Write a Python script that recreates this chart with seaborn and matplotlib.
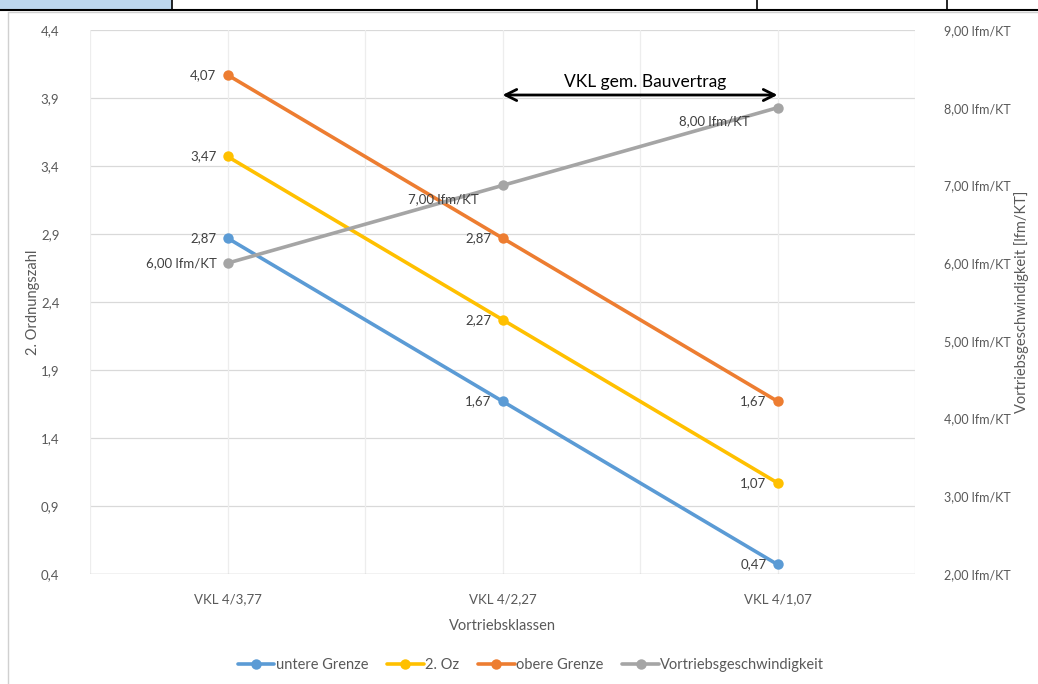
import matplotlib
matplotlib.use("Agg")
import matplotlib.pyplot as plt
from matplotlib.lines import Line2D
from matplotlib.patches import Rectangle
import seaborn as sns
import pandas as pd

# --- data -------------------------------------------------------------
categories = ["VKL 4/3,77", "VKL 4/2,27", "VKL 4/1,07"]
untere_grenze = [2.87, 1.67, 0.47]
zweite_oz = [3.47, 2.27, 1.07]
obere_grenze = [4.07, 2.87, 1.67]
vortrieb = [6.00, 7.00, 8.00]
series_names = ["untere Grenze", "2. Oz", "obere Grenze", "Vortriebsgeschwindigkeit"]
left_ticks = [0.4, 0.9, 1.4, 1.9, 2.4, 2.9, 3.4, 3.9, 4.4]
right_ticks = [2, 3, 4, 5, 6, 7, 8, 9]

colors = {"untere Grenze": "#5B9BD5", "2. Oz": "#FFC000",
          "obere Grenze": "#ED7D31", "Vortriebsgeschwindigkeit": "#A5A5A5"}
text_col = "#595959"

sns.set_theme(style="white")
plt.rcParams["font.family"] = ["Lato", "DejaVu Sans"]

def de(v, nd=2):
    return f"{v:.{nd}f}".replace(".", ",")

pos = {c: i for i, c in enumerate(categories)}
rows = []
for name, vals in zip(series_names[:3], [untere_grenze, zweite_oz, obere_grenze]):
    for c, v in zip(categories, vals):
        rows.append({"klasse": c, "x": pos[c], "wert": v, "reihe": name})
df = pd.DataFrame(rows)
df_v = pd.DataFrame({"klasse": categories, "x": [pos[c] for c in categories], "wert": vortrieb})

fig = plt.figure(figsize=(10.38, 6.84), dpi=100)
W, H = 1038, 684
ax = fig.add_axes([90 / W, 1 - 574 / H, (915 - 90) / W, (574 - 30) / H])
ax2 = ax.twinx()

# grid: horizontal at left ticks, vertical at category centres and borders
for y in left_ticks[1:]:
    ax.axhline(y, color="#D9D9D9", lw=0.9, zorder=0)
for xv in [-0.5, 0, 0.5, 1, 1.5, 2, 2.5]:
    ax.axvline(xv, color="#EDEDED", lw=0.9, zorder=0)
ax.axhline(left_ticks[0], color="#BFBFBF", lw=1.0, zorder=1)

sns.lineplot(data=df, x="x", y="wert", hue="reihe", palette=colors,
             hue_order=series_names[:3], marker="o", markersize=7.5,
             markeredgewidth=0, linewidth=2.6, sort=False, legend=False, ax=ax)
sns.lineplot(data=df_v, x="x", y="wert", color=colors["Vortriebsgeschwindigkeit"],
             marker="o", markersize=7.5, markeredgewidth=0, linewidth=2.6,
             sort=False, legend=False, ax=ax2)

ax.set_xlim(-0.5, 2.5)
ax.set_ylim(left_ticks[0], left_ticks[-1])
ax2.set_ylim(right_ticks[0], right_ticks[-1])
ax.set_xticks(range(len(categories)))
ax.set_xticklabels(categories)
ax.set_yticks(left_ticks)
ax.set_yticklabels([de(t, 1) for t in left_ticks])
ax2.set_yticks(right_ticks)
ax2.set_yticklabels([de(t) + " lfm/KT" for t in right_ticks])

for a in (ax, ax2):
    for s in a.spines.values():
        s.set_visible(False)
    a.tick_params(axis="both", length=0, labelsize=9.5, colors=text_col)
    a.grid(False)
ax.tick_params(axis="x", pad=14)
ax.tick_params(axis="y", pad=22)
ax2.tick_params(axis="y", pad=21, labelsize=9)

ax.set_xlabel("Vortriebsklassen", fontsize=10.5, color=text_col, labelpad=10)
ax.set_ylabel("2. Ordnungszahl", fontsize=10.5, color=text_col, labelpad=0.5)
ax2.set_ylabel("Vortriebsgeschwindigkeit [lfm/KT]", fontsize=10.5, color=text_col, labelpad=2)

# data labels
lab_kw = dict(fontsize=9.5, color="#404040", ha="right", va="center", textcoords="offset points")
for vals in [untere_grenze, zweite_oz, obere_grenze]:
    for i, v in enumerate(vals):
        ax.annotate(de(v), (i, v), xytext=(-8, 0), **lab_kw)
v_offsets = [(-8, 0), (-17, -10), (-20, -10)]
for i, v in enumerate(vortrieb):
    ax2.annotate(de(v) + " lfm/KT", (i, v), xytext=v_offsets[i], **lab_kw)

# contract range arrow
ax.annotate("", xy=(1, 3.922), xytext=(2, 3.922),
            arrowprops=dict(arrowstyle="<->", color="black", lw=2,
                            mutation_scale=20, shrinkA=0, shrinkB=0))
ax.text(1.52, 3.96, "VKL gem. Bauvertrag", ha="center", va="bottom",
        fontsize=12.5, color="black")

# legend
handles = [Line2D([0], [0], color=colors[n], lw=2.6, marker="o", markersize=7.5,
                  markeredgewidth=0) for n in series_names]
fig.legend(handles, series_names, loc="center", bbox_to_anchor=(531 / W, 19 / H),
           ncol=4, frameon=False, fontsize=10.5, handlelength=2.5,
           handletextpad=0.1, columnspacing=1.3, labelcolor=text_col)

# surrounding sheet frame
fig.add_artist(Rectangle((0, 1 - 9 / H), 172 / W, 9 / H, transform=fig.transFigure,
                         facecolor="#BDD7EE", edgecolor="none"))
fig.add_artist(Line2D([0, 1], [1 - 9.5 / H] * 2, transform=fig.transFigure,
                      color="black", lw=1.5))
for xp in [172, 757, 947]:
    fig.add_artist(Line2D([xp / W] * 2, [1 - 9 / H, 1], transform=fig.transFigure,
                          color="black", lw=1.2))
fig.add_artist(Line2D([8 / W] * 2, [0, 1 - 12 / H], transform=fig.transFigure,
                      color="#D0D0D0", lw=1))
fig.add_artist(Line2D([8 / W, 1], [1 - 12 / H] * 2, transform=fig.transFigure,
                      color="#D0D0D0", lw=1))

fig.savefig("out.png", dpi=100)
